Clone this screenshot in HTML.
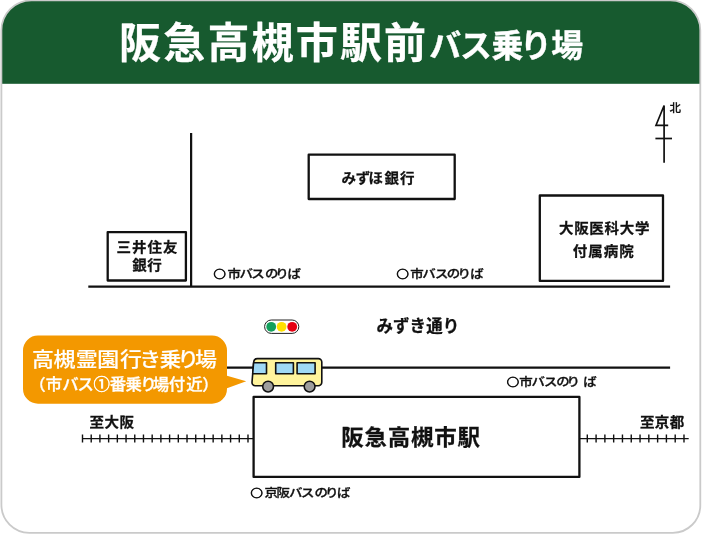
<!DOCTYPE html>
<html lang="ja">
<head>
<meta charset="utf-8">
<title>阪急高槻市駅前バス乗り場</title>
<style>
html,body{margin:0;padding:0;background:#fff;}
body{width:702px;height:535px;overflow:hidden;}
svg{display:block;will-change:transform;}
text{font-family:"Liberation Sans","Noto Sans CJK JP",sans-serif;}
tspan.cj{font-family:"Noto Sans CJK JP",sans-serif;font-size:92%;stroke:#111;stroke-width:0.8px;}
.ln{stroke:#111;stroke-width:2.25;fill:none;}
.bx{stroke:#111;stroke-width:2.3;fill:#fff;stroke-linejoin:round;}
</style>
</head>
<body>
<svg width="702" height="535" viewBox="0 0 702 535">
<defs>
<clipPath id="frame"><path d="M31.4 0.4 H670.3 A30 30 0 0 1 700.3 30.4 V505.3 A27.5 27.5 0 0 1 672.8 532.8 H29.4 A28 28 0 0 1 1.4 504.8 V30.4 A30 30 0 0 1 31.4 0.4 Z"/></clipPath>
</defs>
<rect x="0" y="0" width="702" height="535" fill="#fff"/>
<!-- header -->
<g clip-path="url(#frame)">
<rect x="0" y="0" width="702" height="83.8" fill="#175a2f"/>
</g>
<path d="M31.4 0.4 H670.3 A30 30 0 0 1 700.3 30.4 V505.3 A27.5 27.5 0 0 1 672.8 532.8 H29.4 A28 28 0 0 1 1.4 504.8 V30.4 A30 30 0 0 1 31.4 0.4 Z" fill="none" stroke="#cacaca" stroke-width="1.8"/>
<text id="t1" x="119.02 163.20 207.38 251.55 295.73 339.91 384.09" y="58.32" font-size="42.00" font-weight="700" fill="#fff" stroke="#fff" stroke-width="0.25">阪急高槻市駅前</text>
<text id="t2" x="429.21 459.95 491.52 520.09 551.18" y="57.48" font-size="31.90" font-weight="700" fill="#fff" stroke="#fff" stroke-width="0.4">バス乗り場</text>

<!-- north mark -->
<g stroke="#111" stroke-width="1.7" fill="none" stroke-linejoin="miter">
<path d="M664.1 162.8 V105.5 L656 125.3 H668.2"/>
<path d="M655.4 138.5 H672"/>
</g>
<text id="north" x="690.29" y="112.44" font-size="11.80" font-weight="500" fill="#111" transform="scale(0.9700,1)" stroke="#111" stroke-width="0.2">北</text>

<!-- roads -->
<path class="ln" d="M191.1 133 V286.5"/>
<path class="ln" d="M88.3 286.5 H670.1"/>
<path class="ln" d="M227 367.7 H670.1"/>

<!-- buildings -->
<rect class="bx" x="107.7" y="232.1" width="78.2" height="48.4"/>
<text id="mi1" x="109.99 124.59 139.19 153.79" y="251.86" font-size="13.70" font-weight="700" fill="#111" transform="scale(1.0600,1)" stroke="#111" stroke-width="0.25">三井住友</text>
<text id="mi2" x="124.84 139.00" y="270.14" font-size="13.70" font-weight="700" fill="#111" transform="scale(1.0600,1)" stroke="#111" stroke-width="0.25">銀行</text>

<rect class="bx" x="308.7" y="154.7" width="146" height="44.3"/>
<text id="mz" x="322.23 335.72 347.65 362.79 377.42" y="183.04" font-size="13.70" font-weight="700" fill="#111" transform="scale(1.0600,1)" stroke="#111" stroke-width="0.25">みずほ銀行</text>

<rect class="bx" x="539.8" y="195.5" width="123.2" height="85.4"/>
<text id="h1" x="527.32 541.65 555.99 570.32 584.65 598.98" y="233.24" font-size="13.70" font-weight="700" fill="#111" transform="scale(1.0600,1)" stroke="#111" stroke-width="0.25">大阪医科大学</text>
<text id="h2" x="540.40 554.97 569.55 584.12" y="255.70" font-size="13.70" font-weight="700" fill="#111" transform="scale(1.0600,1)" stroke="#111" stroke-width="0.25">付属病院</text>

<!-- bus stops -->
<text id="s1" x="184.02 196.13 206.41 216.67 228.42 237.36 247.83" y="277.83" font-size="11.60" font-weight="500" fill="#111" transform="scale(1.1600,1)" stroke="#111" stroke-width="0.3"><tspan class="cj">○</tspan>市バスのりば</text>
<text id="s2" x="341.91 353.58 364.04 375.04 385.23 394.34 405.46" y="277.83" font-size="11.60" font-weight="500" fill="#111" transform="scale(1.1600,1)" stroke="#111" stroke-width="0.3"><tspan class="cj">○</tspan>市バスのりば</text>
<text id="s3" x="436.95 447.59 458.22 468.96 479.63 488.40 502.88" y="385.53" font-size="11.60" font-weight="500" fill="#111" transform="scale(1.1600,1)" stroke="#111" stroke-width="0.3"><tspan class="cj">○</tspan>市バスのりば</text>
<text id="s4" x="215.91 228.09 238.47 249.17 259.43 271.18 280.12 290.59" y="497.31" font-size="11.60" font-weight="500" fill="#111" transform="scale(1.1600,1)" stroke="#111" stroke-width="0.3"><tspan class="cj">○</tspan>京阪バスのりば</text>

<!-- street name -->
<text id="st" x="376.38 392.99 409.61 426.22 442.84" y="331.53" font-size="16.50" font-weight="700" fill="#111" stroke="#111" stroke-width="0.25">みずき通り</text>

<!-- traffic light -->
<rect x="264.6" y="320" width="34.2" height="13.4" rx="6.7" fill="#fff" stroke="#222" stroke-width="1"/>
<circle cx="271.2" cy="326.8" r="4.9" fill="#13a05c"/>
<circle cx="281.6" cy="326.8" r="4.9" fill="#ffe100"/>
<circle cx="292.2" cy="326.8" r="4.9" fill="#e60012"/>

<!-- callout -->
<path d="M38 335.6 H212 A15 15 0 0 1 227 350.6 V375.7 L246.2 381.3 L227 388.3 V388.7 A15 15 0 0 1 212 403.7 H38 A15 15 0 0 1 23 388.7 V350.6 A15 15 0 0 1 38 335.6 Z" fill="#f39800"/>
<text id="c1" x="29.58 49.57 70.15 90.13 111.22 128.93 147.62 164.15 180.47" y="367.28" font-size="20.30" font-weight="500" fill="#fff" transform="scale(1.0800,1)" stroke="#fff" stroke-width="0.15">高槻霊園行き乗り場</text>
<text id="c2" x="28.18 43.91 59.97 74.62 89.94 105.62 120.60 134.75 146.91 162.26 179.12 194.58" y="389.60" font-size="15.80" font-weight="500" fill="#fff" transform="scale(1.0400,1)" stroke="#fff" stroke-width="0.3">（市バス<tspan stroke="#fff" stroke-width="0.45">①</tspan>番乗り場付近）</text>

<!-- bus -->
<g stroke="#111" stroke-width="1.6" stroke-linejoin="round">
<path d="M257.4 358.6 H318.3 A3.5 3.5 0 0 1 321.8 362.1 V382.3 A3.5 3.5 0 0 1 318.3 385.8 H255.3 A3.3 3.3 0 0 1 252 382.2 L253.7 362 A3.8 3.8 0 0 1 257.4 358.6 Z" fill="#fff49c"/>
<path d="M253.6 362.8 H266.5 V373.7 H252.7 Z" fill="#9fd9f6"/>
<rect x="275.7" y="362.8" width="17.7" height="10.9" fill="#9fd9f6"/>
<rect x="297.1" y="362.8" width="18" height="10.9" fill="#9fd9f6"/>
<circle cx="268.1" cy="386.6" r="5.4" fill="#9e9e9e"/>
<circle cx="309.6" cy="386.6" r="5.4" fill="#9e9e9e"/>
</g>

<!-- station -->
<rect class="bx" x="253.6" y="396.9" width="325.8" height="80"/>
<text id="stn" x="324.96 347.11 369.27 391.43 413.59 435.75" y="444.61" font-size="21.40" font-weight="700" fill="#111" transform="scale(1.0500,1)" stroke="#111" stroke-width="0.25">阪急高槻市駅</text>

<!-- rails -->
<g stroke="#111" stroke-width="1.2" fill="none">
<path d="M82 438.6 H253"/>
<path d="M579.5 438.6 H688.7"/>
<path stroke-width="1.4" d="M82.50 434.6 V442.6 M91.21 434.6 V442.6 M99.92 434.6 V442.6 M108.63 434.6 V442.6 M117.34 434.6 V442.6 M126.05 434.6 V442.6 M134.76 434.6 V442.6 M143.47 434.6 V442.6 M152.18 434.6 V442.6 M160.89 434.6 V442.6 M169.60 434.6 V442.6 M178.31 434.6 V442.6 M187.02 434.6 V442.6 M195.73 434.6 V442.6 M204.44 434.6 V442.6 M213.15 434.6 V442.6 M221.86 434.6 V442.6 M230.57 434.6 V442.6 M239.28 434.6 V442.6 M247.99 434.6 V442.6"/>
<path stroke-width="1.4" d="M587.30 434.6 V442.6 M596.09 434.6 V442.6 M604.88 434.6 V442.6 M613.67 434.6 V442.6 M622.46 434.6 V442.6 M631.25 434.6 V442.6 M640.04 434.6 V442.6 M648.83 434.6 V442.6 M657.62 434.6 V442.6 M666.41 434.6 V442.6 M675.20 434.6 V442.6 M683.99 434.6 V442.6"/>
</g>
<text id="to1" x="84.46 98.57 112.68" y="427.40" font-size="13.70" font-weight="700" fill="#111" transform="scale(1.0600,1)" stroke="#111" stroke-width="0.25">至大阪</text>
<text id="to2" x="603.71 617.81 631.91" y="427.41" font-size="13.70" font-weight="700" fill="#111" transform="scale(1.0600,1)" stroke="#111" stroke-width="0.25">至京都</text>
</svg>
</body>
</html>
